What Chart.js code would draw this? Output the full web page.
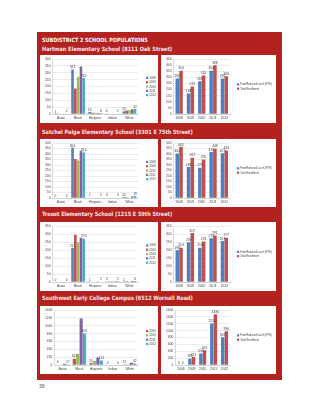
<!DOCTYPE html>
<html><head><meta charset="utf-8">
<script src="https://cdn.jsdelivr.net/npm/chart.js@4/dist/chart.umd.min.js"></script>
<style>
html,body{margin:0;padding:0;background:#fff;width:320px;height:414px;overflow:hidden;font-family:"Liberation Sans",Arial,sans-serif}
#panel{position:absolute;left:37px;top:32px;width:245px;height:348px;background:#B3221F}
.t{position:absolute;left:42px;color:#fff;font-family:"DejaVu Sans",sans-serif;font-weight:bold;white-space:nowrap;line-height:1;transform:scaleX(0.855);transform-origin:0 50%}
.main{font-size:5.7px;top:37.5px}
.sub{font-size:5.8px;color:#FBE6E4}
.box{position:absolute;background:#fff}
.box canvas{display:block}
#pg{position:absolute;left:39px;top:383px;font-size:5px;color:#555}
</style></head><body>
<div id="panel"></div>
<div class="t main">SUBDISTRICT 2 SCHOOL POPULATIONS</div>
<div class="t sub" style="top:47px">Hartman Elementary School (8111 Oak Street)</div>
<div class="t sub" style="top:130px">Satchel Paige Elementary School (3301 E 75th Street)</div>
<div class="t sub" style="top:212px">Troost Elementary School (1215 E 59th Street)</div>
<div class="t sub" style="top:296px">Southwest Early College Campus (6512 Wornall Road)</div>
<div class="box" style="left:40px;top:55px;width:118px;height:68px"><canvas id="c1"></canvas></div>
<div class="box" style="left:161px;top:55px;width:115px;height:68px"><canvas id="c2"></canvas></div>
<div class="box" style="left:40px;top:139px;width:118px;height:68px"><canvas id="c3"></canvas></div>
<div class="box" style="left:161px;top:139px;width:115px;height:68px"><canvas id="c4"></canvas></div>
<div class="box" style="left:40px;top:222px;width:118px;height:69px"><canvas id="c5"></canvas></div>
<div class="box" style="left:161px;top:222px;width:115px;height:69px"><canvas id="c6"></canvas></div>
<div class="box" style="left:40px;top:306px;width:118px;height:68px"><canvas id="c7"></canvas></div>
<div class="box" style="left:161px;top:306px;width:115px;height:68px"><canvas id="c8"></canvas></div>
<div id="pg">38</div>
<script>
// ---- data ----
const raceCategories = ['Asian','Black','Hispanic','Indian','White'];
const years = ['2008','2009','2010','2011','2012'];
const lunchSeries = ['Free/Reduced Lunch (FTE)','Total Enrollment'];

const hartman2008 = [1, 323, 14, 4, 20];
const hartman2009 = [1, 185, 10, 2, 25];
const hartman2010 = [2, 270, 10, 2, 30];
const hartman2011 = [2, 345, 8, 2, 35];
const hartman2012 = [2, 262, 8, 2, 37];
const hartmanLunch = [290, 168, 269, 354, 290];
const hartmanTotal = [354, 225, 316, 398, 308];

const paige2008 = [0, 456, 2, 3, 10];
const paige2009 = [0, 355, 2, 3, 8];
const paige2010 = [0, 340, 2, 3, 6];
const paige2011 = [0, 428, 2, 3, 15];
const paige2012 = [0, 414, 2, 3, 19];
const paigeLunch = [404, 283, 275, 419, 407];
const paigeTotal = [465, 367, 350, 448, 433];

const troost2008 = [0, 212, 1, 3, 1];
const troost2009 = [0, 295, 2, 4, 5];
const troost2010 = [0, 249, 2, 5, 3];
const troost2011 = [0, 277, 3, 5, 6];
const troost2012 = [0, 270, 2, 5, 6];
const troostLunch = [198, 249, 214, 273, 257];
const troostTotal = [214, 307, 253, 291, 277];

const southwest2009 = [6, 162, 55, 0, 12];
const southwest2010 = [10, 280, 105, 0, 20];
const southwest2011 = [30, 1181, 190, 0, 60];
const southwest2012 = [17, 801, 113, 0, 42];
const southwestLunch = [0, 185, 333, 1211, 805];
const southwestTotal = [0, 231, 433, 1480, 980];

// ---- styling ----
const yearColors = {'2008':'#4F81BD','2009':'#C0504D','2010':'#9BBB59','2011':'#8064A2','2012':'#4BACC6'};
const FS = 3.3;
const FONT = '"Liberation Sans", Arial, sans-serif';

const valueLabels = {
  id:'valueLabels',
  afterDatasetsDraw(chart, args, opts){
    const idx = opts && opts.datasets; if(!idx) return;
    const ctx = chart.ctx; ctx.save();
    ctx.font = FS + 'px ' + FONT; ctx.fillStyle = '#404040';
    ctx.textAlign = 'center'; ctx.textBaseline = 'bottom';
    idx.forEach(i => {
      const meta = chart.getDatasetMeta(i);
      meta.data.forEach((bar, j) => {
        ctx.fillText(String(chart.data.datasets[i].data[j]), bar.x, bar.y - 0.6);
      });
    });
    ctx.restore();
  }
};
const sideLegend = {
  id:'sideLegend',
  afterDraw(chart, args, opts){
    if(!opts || !opts.gap) return;
    const ctx = chart.ctx, a = chart.chartArea, ds = chart.data.datasets;
    const lh = opts.lineH, n = ds.length;
    const x = a.right + opts.gap;
    let y = (a.top + a.bottom)/2 - (n*lh)/2 + lh/2;
    ctx.save();
    ctx.font = opts.fs + 'px ' + FONT; ctx.textBaseline = 'middle'; ctx.textAlign = 'left';
    ds.forEach(d => {
      ctx.fillStyle = d.backgroundColor; ctx.fillRect(x, y - 1.1, 2.2, 2.2);
      ctx.fillStyle = '#404040'; ctx.fillText(d.label, x + 3.2, y + 0.2);
      y += lh;
    });
    ctx.restore();
  }
};
Chart.register(valueLabels, sideLegend);

function makeChart(id, labels, datasets, max, step, labelIdx, catPct, barPct, padRight, gap, lfs){
  const el = document.getElementById(id);
  const box = el.parentNode;
  el.width = box.clientWidth; el.height = box.clientHeight;
  return new Chart(el, {
    type:'bar',
    data:{labels, datasets},
    options:{
      responsive:false, animation:false, devicePixelRatio:1,
      layout:{padding:{top:4, right:padRight, bottom:1, left:3}},
      datasets:{bar:{categoryPercentage:catPct, barPercentage:barPct}},
      plugins:{
        legend:{display:false},
        tooltip:{enabled:false},
        valueLabels:{datasets:labelIdx},
        sideLegend:{gap:gap, lineH:4.3, fs:lfs}
      },
      scales:{
        x:{grid:{display:false, drawTicks:false}, border:{color:'#BFBFBF', width:0.6},
           ticks:{font:{size:FS, family:FONT}, color:'#404040', padding:2, autoSkip:false, maxRotation:0}},
        y:{min:0, max:max, grid:{color:'#D9D9D9', lineWidth:0.5, drawTicks:false}, border:{color:'#BFBFBF', width:0.6},
           ticks:{stepSize:step, autoSkip:false, font:{size:FS, family:FONT}, color:'#404040', padding:2,
                  callback:v => String(v)}}
      }
    }
  });
}
function yearSets(names, arrays){
  return names.map((n,i)=>({label:n, data:arrays[i], backgroundColor:yearColors[n], borderWidth:0}));
}
function lunchSets(a, b){
  return [
    {label:lunchSeries[0], data:a, backgroundColor:'#4F81BD', borderWidth:0},
    {label:lunchSeries[1], data:b, backgroundColor:'#C0504D', borderWidth:0}
  ];
}

makeChart('c1', raceCategories, yearSets(years,[hartman2008,hartman2009,hartman2010,hartman2011,hartman2012]), 400, 50, [0,4], 0.82, 0.92, 20, 8, 3.0);
makeChart('c2', years, lunchSets(hartmanLunch, hartmanTotal), 450, 50, [0,1], 0.66, 0.95, 46, 7, 2.6);
makeChart('c3', raceCategories, yearSets(years,[paige2008,paige2009,paige2010,paige2011,paige2012]), 500, 50, [0,4], 0.82, 0.92, 20, 8, 3.0);
makeChart('c4', years, lunchSets(paigeLunch, paigeTotal), 500, 50, [0,1], 0.66, 0.95, 46, 7, 2.6);
makeChart('c5', raceCategories, yearSets(years,[troost2008,troost2009,troost2010,troost2011,troost2012]), 350, 50, [0,4], 0.82, 0.92, 20, 8, 3.0);
makeChart('c6', years, lunchSets(troostLunch, troostTotal), 350, 50, [0,1], 0.66, 0.95, 46, 7, 2.6);
makeChart('c7', raceCategories, yearSets(years.slice(1),[southwest2009,southwest2010,southwest2011,southwest2012]), 1400, 200, [0,3], 0.82, 0.92, 20, 8, 3.0);
makeChart('c8', years, lunchSets(southwestLunch, southwestTotal), 1600, 200, [0,1], 0.66, 0.95, 46, 7, 2.6);
</script>
</body></html>
